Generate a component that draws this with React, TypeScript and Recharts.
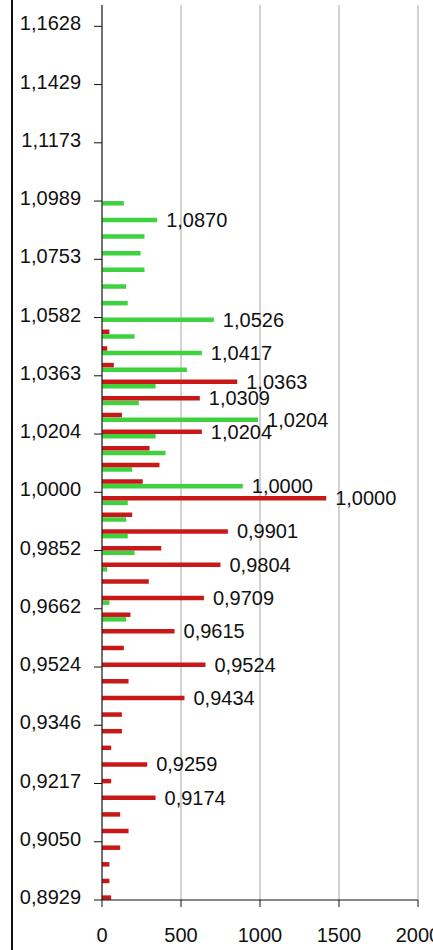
import React from 'react';
import { BarChart, Bar, XAxis, YAxis, CartesianGrid, LabelList } from 'recharts';

const FONT = 'Arial, "Liberation Sans", sans-serif';

// exchange rate buckets, top to bottom
const categories = [
  '1,1628', '1,1561', '1,1494', '1,1429', '1,1364', '1,1299', '1,1236', '1,1173', '1,1111', '1,1050',
  '1,0989', '1,0929', '1,0870', '1,0811', '1,0753', '1,0695', '1,0638', '1,0582', '1,0526', '1,0471',
  '1,0417', '1,0363', '1,0309', '1,0256', '1,0204', '1,0152', '1,0101', '1,0050', '1,0000', '0,9950',
  '0,9901', '0,9852', '0,9804', '0,9756', '0,9709', '0,9662', '0,9615', '0,9569', '0,9524', '0,9479',
  '0,9434', '0,9390', '0,9346', '0,9302', '0,9259', '0,9217', '0,9174', '0,9132', '0,9091', '0,9050',
  '0,9009', '0,8969', '0,8929',
];

const greenValues = [
  0, 0, 0, 0, 0, 0, 0, 0, 0, 0,
  0, 138, 349, 269, 244, 269, 153, 163, 708, 206,
  632, 537, 339, 233, 988, 339, 402, 191, 891, 163,
  153, 163, 206, 33, 0, 47, 153, 0, 0, 0,
  0, 0, 0, 0, 0, 0, 0, 0, 0, 0,
  0, 0, 0,
];

const redValues = [
  0, 0, 0, 0, 0, 0, 0, 0, 0, 0,
  0, 0, 0, 0, 0, 0, 0, 0, 47, 33,
  75, 856, 619, 126, 632, 301, 364, 258, 1419, 191,
  797, 375, 750, 296, 645, 180, 459, 138, 655, 168,
  522, 126, 126, 58, 286, 58, 339, 115, 168, 115,
  47, 47, 58,
];

const greenLabelled = ['1,0870', '1,0526', '1,0417', '1,0204', '1,0000'];
const redLabelled = [
  '1,0363', '1,0309', '1,0204', '1,0000', '0,9901', '0,9804',
  '0,9709', '0,9615', '0,9524', '0,9434', '0,9259', '0,9174',
];

const yTickLabels = [
  '1,1628', '1,1429', '1,1173', '1,0989', '1,0753', '1,0582', '1,0363', '1,0204',
  '1,0000', '0,9852', '0,9662', '0,9524', '0,9346', '0,9217', '0,9050', '0,8929',
];
const xTicks = [0, 500, 1000, 1500, 2000];

const data = categories.map((cat, i) => ({
  cat,
  green: greenValues[i],
  red: redValues[i],
  greenLabel: greenLabelled.includes(cat) ? cat : null,
  redLabel: redLabelled.includes(cat) ? cat : null,
}));

// label ticks sit every 3.5 buckets
const TICK_STEP = 3.5;
const yTickPositions = yTickLabels.map((_, k) => k * TICK_STEP);

// plot box, empty strip above the first bucket
const PLOT_TOP = 5;
const PLOT_BOTTOM = 900;
const TOP_GAP = 13;
const halfBucket = (PLOT_BOTTOM - PLOT_TOP - TOP_GAP) / categories.length / 2;

const renderBarLabel = (props: any) => {
  const { value } = props;
  if (value == null) return null;
  const vb = props.viewBox || {};
  const x = typeof props.x === 'number' ? props.x : vb.x;
  const y = typeof props.y === 'number' ? props.y : vb.y;
  const width = typeof props.width === 'number' ? props.width : vb.width;
  const height = typeof props.height === 'number' ? props.height : vb.height;
  return (
    <text
      x={x + width + 9}
      y={y + height / 2}
      dominantBaseline="central"
      fontSize={20}
      fontFamily={FONT}
      fill="#111"
    >
      {value}
    </text>
  );
};

const YTick = (props: any) => {
  const { x, y, payload } = props;
  const label = yTickLabels[Math.round(payload.value / TICK_STEP)];
  return (
    <text x={x} y={y - 3} textAnchor="end" dominantBaseline="central" fontSize={20} fontFamily={FONT} fill="#111">
      {label}
    </text>
  );
};

export default function App() {
  return (
    <div
      style={{
        position: 'absolute',
        left: 0,
        top: 0,
        width: 433,
        height: 950,
        overflow: 'hidden',
        background: '#fff',
      }}
    >
      <div style={{ position: 'absolute', left: 11, top: 0, width: 0, height: 950, borderLeft: '2px solid #111' }} />
      <BarChart
        width={433}
        height={950}
        data={data}
        layout="vertical"
        margin={{ top: PLOT_TOP, right: 15, bottom: 950 - PLOT_BOTTOM - 35, left: 0 }}
        barSize={4.5}
        barGap={7.5}
      >
        <CartesianGrid horizontal={false} stroke="#a6a6a6" xAxisId="bottom" yAxisId="cat" />
        <XAxis
          xAxisId="bottom"
          type="number"
          domain={[0, 2000]}
          ticks={xTicks}
          interval={0}
          allowDataOverflow
          height={35}
          tickSize={7}
          tickMargin={21}
          axisLine={{ stroke: '#111' }}
          tickLine={{ stroke: '#111' }}
          tick={{ fontSize: 20, fontFamily: FONT, fill: '#111' }}
        />
        <XAxis
          xAxisId="top"
          orientation="top"
          type="number"
          domain={[0, 2000]}
          allowDataOverflow
          height={0}
          tick={false}
          tickLine={false}
          axisLine={{ stroke: '#8c8c8c' }}
        />
        <YAxis yAxisId="cat" type="category" dataKey="cat" hide width={0} padding={{ top: TOP_GAP, bottom: 0 }} />
        <YAxis
          yAxisId="lab"
          type="number"
          domain={[0, categories.length - 1]}
          allowDataOverflow
          ticks={yTickPositions}
          interval={0}
          width={102}
          tickSize={8}
          tickMargin={13}
          padding={{ top: TOP_GAP + halfBucket, bottom: halfBucket }}
          axisLine={{ stroke: '#111' }}
          tickLine={{ stroke: '#111' }}
          tick={<YTick />}
        />
        <Bar dataKey="green" xAxisId="bottom" yAxisId="cat" fill="#3fd23f" isAnimationActive={false}>
          <LabelList dataKey="greenLabel" content={renderBarLabel} />
        </Bar>
        <Bar dataKey="red" xAxisId="bottom" yAxisId="cat" fill="#c81818" isAnimationActive={false}>
          <LabelList dataKey="redLabel" content={renderBarLabel} />
        </Bar>
      </BarChart>
    </div>
  );
}
